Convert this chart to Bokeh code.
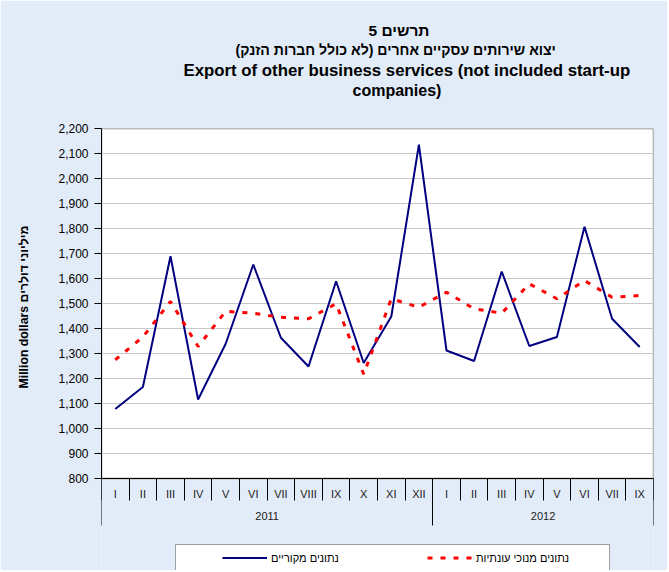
from bokeh.plotting import figure
from bokeh.models import (Range1d, LinearAxis, FixedTicker, NumeralTickFormatter,
                          Title, Legend, LegendItem, CustomJSTickFormatter)
from bokeh.embed import file_html
from bokeh.resources import INLINE

# ---------------- data ----------------
months = ["I", "II", "III", "IV", "V", "VI", "VII", "VIII", "IX", "X", "XI", "XII",
          "I", "II", "III", "IV", "V", "VI", "VII", "IX"]
years = ["2011", "2012"]
months_per_year = [12, 8]
original = [1078, 1166, 1689, 1116, 1339, 1656, 1363, 1248, 1589, 1262, 1448, 2135,
            1312, 1270, 1628, 1330, 1366, 1807, 1439, 1326]
seasonal = [1275, 1366, 1508, 1328, 1469, 1461, 1445, 1439, 1499, 1217, 1519, 1485,
            1545, 1479, 1461, 1579, 1519, 1592, 1525, 1532]
y_ticks = list(range(800, 2201, 100))

title_lines = ["תרשים 5",
               "יצוא שירותים עסקיים אחרים (לא כולל חברות הזנק)\u200f",
               "Export of other business services (not included start-up",
               "companies)"]
title_sizes = ["15.5px", "14.1px", "16.8px", "16px"]
title_offsets = [267, 134, 82, 251]
title_standoffs = [1, 1, 0, 0]
y_label = "Million dollars  מיליוני דולרים"
legend_labels = ["נתונים מקוריים", "נתונים מנוכי עונתיות"]

# ---------------- derived positions ----------------
n = len(months)
xs = [i + 0.5 for i in range(n)]
bounds = [0]
for m in months_per_year:
    bounds.append(bounds[-1] + m)
year_centers = [(bounds[i] + bounds[i + 1]) / 2 for i in range(len(years))]
y_lo, y_hi = y_ticks[0], y_ticks[-1]

FONT = "Liberation Sans"
BG = "#e2ecf8"
W, H = 667, 570
F_LEFT, F_TOP, F_RIGHT = 101, 128, 653
PLOT_BOTTOM = 478
px_per_unit = (PLOT_BOTTOM - F_TOP) / (y_hi - y_lo)
y_start = y_lo - (H - PLOT_BOTTOM) / px_per_unit   # frame extends below the plot area

p = figure(width=W, height=H, output_backend="svg", toolbar_location=None, tools="",
           x_range=Range1d(0, n), y_range=Range1d(y_start, y_hi),
           x_axis_location=None,
           min_border_left=F_LEFT, min_border_right=W - F_RIGHT, min_border_top=F_TOP,
           min_border_bottom=0,
           background_fill_color=BG, border_fill_color=BG, outline_line_color=None)

# white plot area
p.quad(left=0, right=n, bottom=y_lo, top=y_hi, fill_color="white",
       line_color="#808080", line_width=1.5, level="image")

for g in p.xgrid:
    g.visible = False
yg = p.ygrid[0]
yg.ticker = FixedTicker(ticks=y_ticks)
yg.bounds = (y_lo, y_hi)
yg.grid_line_color = "#c8c8c8"
yg.grid_line_width = 1

ya = p.yaxis[0]
ya.ticker = FixedTicker(ticks=y_ticks)
ya.bounds = (y_lo, y_hi)
ya.formatter = NumeralTickFormatter(format="0,0")
ya.major_tick_in = 0
ya.major_tick_out = 7
ya.minor_tick_line_color = None
ya.axis_line_color = "#000000"
ya.major_tick_line_color = "#000000"
ya.major_label_standoff = 6
ya.major_label_text_font = FONT
ya.major_label_text_font_size = "12px"
ya.major_label_text_color = "#000000"
# blank axis label only reserves room between tick labels and the axis title
ya.axis_label = "\u00a0"
ya.axis_label_text_font = FONT
ya.axis_label_text_font_size = "12.3px"
ya.axis_label_standoff = 8

# axis title placed beside the plot area (bottom end at 182px above frame bottom)
p.add_layout(Title(text=y_label, align="left", offset=H - 388, vertical_align="bottom",
                   standoff=0, text_font=FONT, text_font_size="12.3px",
                   text_font_style="bold", text_color="#000000"), "left")

r_orig = p.line(xs, original, line_color="#000080", line_width=2)
r_seas = p.line(xs, seasonal, line_color="#ff0000", line_width=3, line_dash="5 8")

# month axis (fixed at the bottom of the plot area)
ax_m = LinearAxis(
    fixed_location=y_lo,
    ticker=FixedTicker(ticks=xs, minor_ticks=list(range(n + 1))),
    formatter=CustomJSTickFormatter(args=dict(labels=months),
                                    code="return labels[Math.floor(tick)] || '';"),
    major_tick_in=0, major_tick_out=0, minor_tick_in=0, minor_tick_out=22,
    minor_tick_line_color="#000000", axis_line_color="#000000",
    major_label_standoff=-13, major_label_text_font=FONT,
    major_label_text_font_size="11px", major_label_text_color="#222222")
p.add_layout(ax_m, "below")

# year axis
ax_y = LinearAxis(
    fixed_location=y_lo,
    ticker=FixedTicker(ticks=year_centers, minor_ticks=bounds),
    formatter=CustomJSTickFormatter(args=dict(labels=years, centers=year_centers),
                                    code="const i = centers.indexOf(tick); return i >= 0 ? labels[i] : '';"),
    major_tick_in=0, major_tick_out=0, minor_tick_in=0, minor_tick_out=47,
    minor_tick_line_color="#000000", axis_line_color=None,
    major_label_standoff=-14, major_label_text_font=FONT,
    major_label_text_font_size="11px", major_label_text_color="#222222")
p.add_layout(ax_y, "below")

legend = Legend(items=[LegendItem(label=legend_labels[0], renderers=[r_orig]),
                       LegendItem(label=legend_labels[1], renderers=[r_seas])],
                orientation="horizontal", location=(74, -1), margin=0, padding=6,
                spacing=29, glyph_width=45, glyph_height=13, label_height=13,
                label_standoff=4, label_width=127,
                label_text_font=FONT, label_text_font_size="11px",
                label_text_color="#000000",
                border_line_color="#404040", border_line_width=1,
                background_fill_color="white", background_fill_alpha=1)
if "title_location" in Legend.properties():
    legend.title = "\u00a0"
    legend.title_location = "left"
    legend.title_standoff = 28
    legend.title_text_font_size = "11px"
p.add_layout(legend, "center")

# titles (closest to the frame first)
p.add_layout(Title(text="\u00a0", text_font_size="13px", standoff=13), "above")
for line, fs, so, off in reversed(list(zip(title_lines, title_sizes, title_standoffs, title_offsets))):
    p.add_layout(Title(text=line, align="left", offset=off, text_font=FONT,
                       text_font_size=fs, text_font_style="bold",
                       text_color="#000000", standoff=so), "above")

open("out.html", "w").write(file_html(p, INLINE))
